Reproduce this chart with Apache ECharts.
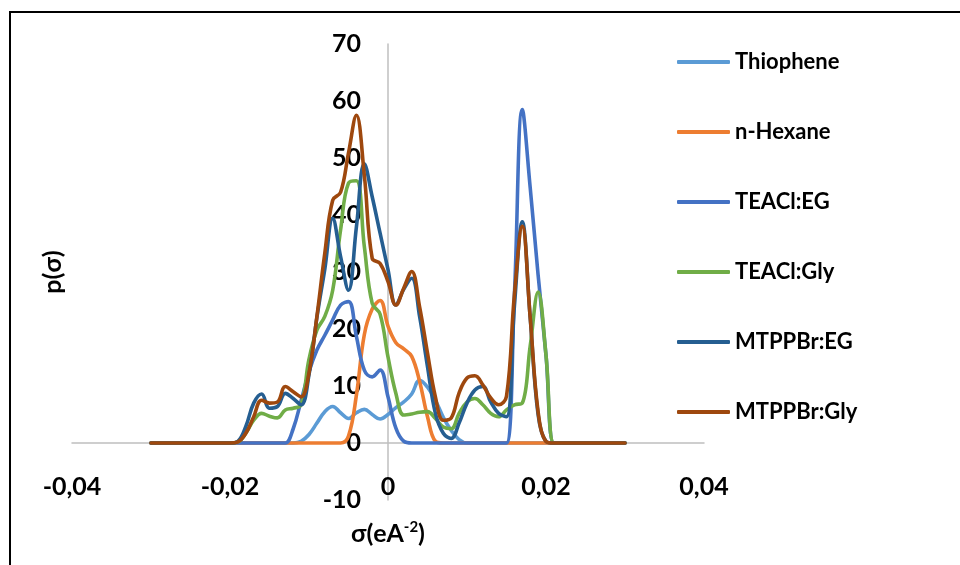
<!DOCTYPE html>
<html>
<head>
<meta charset="utf-8">
<script src="https://cdn.jsdelivr.net/npm/echarts@6/dist/echarts.min.js"></script>
<style>
  html, body { margin: 0; padding: 0; background: #fff; }
  #chart { width: 960px; height: 565px; }
</style>
</head>
<body>
<div id="chart"></div>
<script>
const sigma = [
  -0.030, -0.029, -0.028, -0.027, -0.026, -0.025, -0.024, -0.023, -0.022, -0.021,
  -0.020, -0.019, -0.018, -0.017, -0.016, -0.015, -0.014, -0.013, -0.012, -0.011,
  -0.010, -0.009, -0.008, -0.007, -0.006, -0.005, -0.004, -0.003, -0.002, -0.001,
  0.000, 0.001, 0.002, 0.003, 0.004, 0.005, 0.006, 0.007, 0.008, 0.009,
  0.010, 0.011, 0.012, 0.013, 0.014, 0.015, 0.016, 0.017, 0.018, 0.019,
  0.020, 0.021, 0.022, 0.023, 0.024, 0.025, 0.026, 0.027, 0.028, 0.029, 0.030
]

const thiophene = [
  0, 0, 0, 0, 0, 0, 0, 0, 0, 0,
  0, 0, 0, 0, 0, 0, 0, 0, 0, 0.3,
  1.5, 3.5, 5.5, 6.4, 5.3, 4.3, 5.3, 5.9, 5.0, 4.2,
  5.0, 6.2, 7.2, 8.6, 11.0, 9.8, 7.5, 4.5, 2.2, 0.6,
  0, 0, 0, 0, 0, 0, 0, 0, 0, 0,
  0, 0, 0, 0, 0, 0, 0, 0, 0, 0, 0
]

const hexane = [
  0, 0, 0, 0, 0, 0, 0, 0, 0, 0,
  0, 0, 0, 0, 0, 0, 0, 0, 0, 0,
  0, 0, 0, 0, 0, 1.2, 8.4, 19.0, 23.5, 25.0,
  20.5, 17.6, 16.5, 15.2, 10.8, 4.6, 0.3, 0, 0, 0,
  0, 0, 0, 0, 0, 0, 0, 0, 0, 0,
  0, 0, 0, 0, 0, 0, 0, 0, 0, 0, 0
]

const teaclEG = [
  0, 0, 0, 0, 0, 0, 0, 0, 0, 0,
  0, 0, 0, 0, 0, 0, 0, 0, 2.5, 7.4,
  12.5, 16.3, 18.9, 21.6, 24.2, 24.8, 18.7, 12.8, 11.6, 12.8,
  8.1, 2.6, 0.3, 0, 0, 0, 0, 0, 0, 0,
  0, 0, 0, 0, 0, 0, 26.0, 58.5, 44.8, 29.5,
  15.4, 0, 0, 0, 0, 0, 0, 0, 0, 0, 0
]

const teaclGly = [
  0, 0, 0, 0, 0, 0, 0, 0, 0, 0,
  0, 0.2, 1.7, 4.0, 5.2, 4.7, 4.4, 5.8, 6.1, 6.7,
  14.7, 19.8, 22.2, 26.8, 37.4, 45.6, 46.0, 34.5, 24.5, 22.6,
  15.1, 8.7, 4.9, 5.1, 5.4, 5.5, 4.3, 2.8, 2.5, 5.2,
  7.2, 7.8, 6.7, 5.2, 4.6, 5.8, 6.7, 7.0, 17.0, 26.5,
  15.4, 0, 0, 0, 0, 0, 0, 0, 0, 0, 0
]

const mtppbrEG = [
  0, 0, 0, 0, 0, 0, 0, 0, 0, 0,
  0, 0.3, 2.9, 7.0, 8.6, 6.1, 6.4, 8.7, 7.8, 6.7,
  12.0, 22.0, 30.5, 39.4, 32.7, 26.8, 37.9, 49.0, 43.2, 36.8,
  30.4, 24.2, 27.0, 28.9, 22.2, 13.4, 5.2, 1.7, 0.8, 3.5,
  7.0, 9.3, 9.9, 7.2, 5.2, 4.6, 24.0, 38.8, 22.0, 5.0,
  0.3, 0, 0, 0, 0, 0, 0, 0, 0, 0, 0
]

const mtppbrGly = [
  0, 0, 0, 0, 0, 0, 0, 0, 0, 0,
  0, 0.2, 1.7, 4.6, 7.5, 7.0, 7.2, 9.9, 9.0, 8.1,
  12.3, 22.2, 33.3, 42.6, 44.0, 50.9, 57.5, 47.0, 32.4, 31.5,
  28.3, 24.2, 27.2, 30.1, 23.9, 15.8, 8.1, 4.0, 4.4, 8.8,
  11.4, 11.8, 10.2, 7.9, 6.7, 8.2, 26.0, 38.0, 22.0, 5.5,
  0.3, 0, 0, 0, 0, 0, 0, 0, 0, 0, 0
]

const seriesNames = ['Thiophene', 'n-Hexane', 'TEACl:EG', 'TEACl:Gly', 'MTPPBr:EG', 'MTPPBr:Gly']
const seriesValues = [thiophene, hexane, teaclEG, teaclGly, mtppbrEG, mtppbrGly]
const colors = ['#5B9BD5', '#ED7D31', '#4472C4', '#70AD47', '#255E91', '#9E480E']

const font = 'Lato, "DejaVu Sans", sans-serif'

const chart = echarts.init(document.getElementById('chart'))

// axis lines sit on zero, labels and names are placed from the grid edges
const option = {
  animation: false,
  color: colors,
  grid: { left: 72, right: 256, top: 44, bottom: 65, containLabel: false, outerBoundsMode: 'none' },
  legend: {
    orient: 'vertical',
    left: 672,
    top: 44,
    itemWidth: 53,
    itemHeight: 4,
    itemGap: 44,
    icon: 'roundRect',
    textStyle: { fontFamily: font, fontWeight: 'bold', fontSize: 22, color: '#000', lineHeight: 26 },
    data: seriesNames
  },
  xAxis: {
    type: 'value',
    min: -0.04,
    max: 0.04,
    interval: 0.02,
    axisLine: { onZero: true, lineStyle: { color: '#BFBFBF', width: 1.5 } },
    axisTick: { show: false },
    splitLine: { show: false },
    axisLabel: {
      margin: -26,
      fontFamily: font,
      fontWeight: 'bold',
      fontSize: 25,
      color: '#000',
      formatter: v => (Math.abs(v) < 1e-9 ? '0' : v.toFixed(2).replace('.', ','))
    },
    name: '{a|σ(eA}{s|-2}{a|)}',
    nameLocation: 'middle',
    nameGap: 20,
    nameTextStyle: {
      rich: {
        a: { fontFamily: font, fontWeight: 'bold', fontSize: 25, color: '#000' },
        s: { fontFamily: font, fontWeight: 'bold', fontSize: 15, color: '#000', verticalAlign: 'top', padding: [0, 0, 12, 0] }
      }
    }
  },
  yAxis: {
    type: 'value',
    min: -10,
    max: 70,
    interval: 10,
    axisLine: { show: true, onZero: true, lineStyle: { color: '#BFBFBF', width: 1.5 } },
    axisTick: { show: false },
    splitLine: { show: false },
    axisLabel: { margin: -289, fontFamily: font, fontWeight: 'bold', fontSize: 25, color: '#000' },
    name: 'p(σ)',
    nameLocation: 'middle',
    nameGap: 7,
    nameTextStyle: { fontFamily: font, fontWeight: 'bold', fontSize: 25, color: '#000' }
  },
  graphic: [
    { type: 'line', shape: { x1: 10, y1: 11, x2: 10, y2: 565 }, style: { stroke: '#000', lineWidth: 2 } },
    { type: 'line', shape: { x1: 9, y1: 12, x2: 960, y2: 12 }, style: { stroke: '#000', lineWidth: 2 } }
  ],
  series: seriesNames.map((name, i) => ({
    name: name,
    type: 'line',
    smooth: 0.4,
    symbol: 'none',
    lineStyle: { width: 3.6, cap: 'round', join: 'round' },
    data: sigma.map((s, j) => [s, seriesValues[i][j]])
  }))
}

chart.setOption(option)
</script>
</body>
</html>
